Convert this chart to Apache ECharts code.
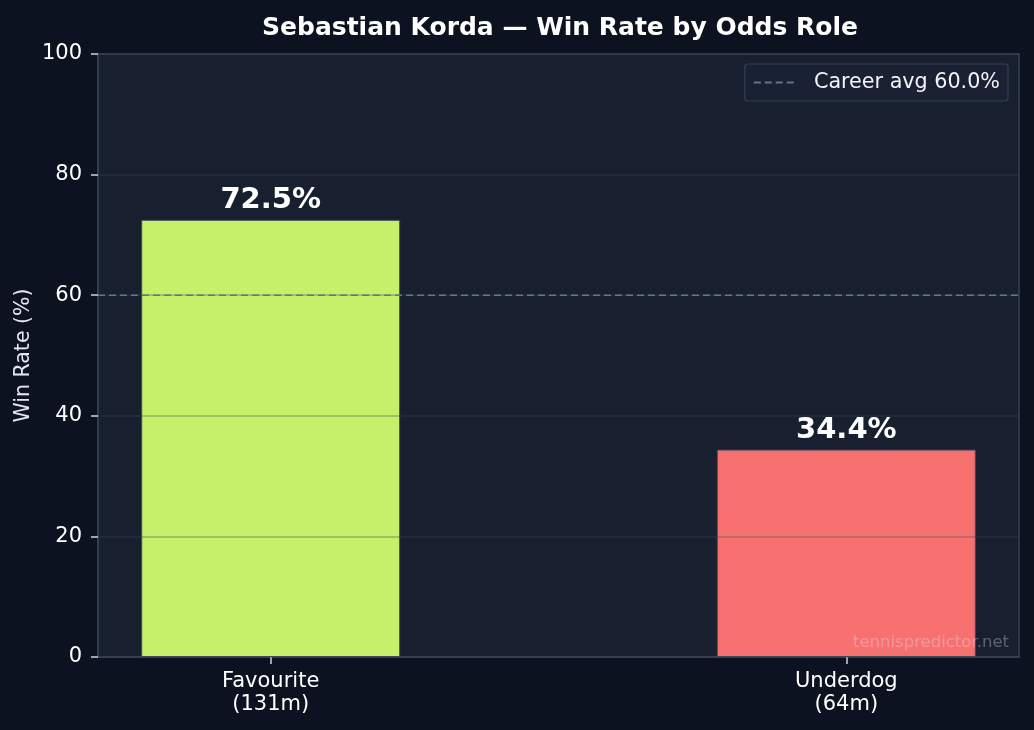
<!DOCTYPE html>
<html>
<head>
<meta charset="utf-8">
<script src="https://cdn.jsdelivr.net/npm/echarts@6/dist/echarts.min.js"></script>
<style>
  html, body { margin: 0; padding: 0; background: #0d1220; }
  #chart { width: 1034px; height: 730px; }
</style>
</head>
<body>
<div id="chart"></div>
<script>
// data
let categories = ['Favourite\n(131m)', 'Underdog\n(64m)'];
let winRates = [72.5, 34.4];
let barColors = ['#c4f06a', '#f87171'];
let careerAvg = 60.0;
let yTicks = [0, 20, 40, 60, 80, 100];
let xMin = -0.3, xMax = 1.3;

let font = 'DejaVu Sans';
let avgName = 'Career avg ' + careerAvg.toFixed(1) + '%';

let myChart = echarts.init(document.getElementById('chart'), null, { renderer: 'canvas' });

let option = {
    backgroundColor: '#0d1220',
    animation: false,
    textStyle: { fontFamily: font },
    title: {
        text: 'Sebastian Korda \u2014 Win Rate by Odds Role',
        left: 555,
        textAlign: 'center',
        top: 11,
        textStyle: { color: '#ffffff', fontSize: 25, fontWeight: 'bold', fontFamily: font }
    },
    legend: {
        right: 26,
        top: 64,
        padding: [8, 8, 8, 8],
        backgroundColor: '#1a2132',
        borderColor: '#334155',
        borderWidth: 1.2,
        borderRadius: 3,
        itemWidth: 42,
        itemHeight: 14,
        itemStyle: { opacity: 0 },
        textStyle: { color: '#f1f5f9', fontSize: 20.7, fontFamily: font },
        formatter: name => '  ' + name,
        data: [avgName]
    },
    grid: {
        left: 98,
        right: 15,
        top: 54,
        bottom: 73,
        show: true,
        backgroundColor: '#181f2f',
        borderColor: '#334155',
        borderWidth: 1.5
    },
    xAxis: {
        type: 'value',
        min: xMin,
        max: xMax,
        axisLine: { show: true, onZero: false, lineStyle: { color: '#334155', width: 1.5 } },
        axisTick: { show: true, customValues: [0, 1], length: 7, lineStyle: { color: '#cbd5e1', width: 1.5 } },
        axisLabel: {
            customValues: [0, 1],
            color: '#ffffff',
            fontSize: 21,
            lineHeight: 23,
            margin: 13,
            formatter: v => categories[Math.round(v)]
        },
        splitLine: { show: false }
    },
    yAxis: {
        type: 'value',
        min: 0,
        max: 100,
        interval: 20,
        z: 3,
        name: 'Win Rate (%)',
        nameLocation: 'middle',
        nameGap: 64,
        nameMoveOverlap: false,
        nameTextStyle: { color: '#e2e8f0', fontSize: 20.5, fontFamily: font },
        axisLine: { show: true, onZero: false, lineStyle: { color: '#334155', width: 1.5 } },
        axisTick: { show: true, length: 7, lineStyle: { color: '#cbd5e1', width: 1.5 } },
        axisLabel: {
            color: '#ffffff',
            fontSize: 21,
            margin: 16,
            customValues: yTicks
        },
        splitLine: { show: true, lineStyle: { color: 'rgba(60,72,85,0.38)', width: 1.6 } }
    },
    graphic: [{
        type: 'text',
        right: 25,
        bottom: 79,
        z: 10,
        style: {
            text: 'tennispredictor.net',
            fill: 'rgba(226,232,240,0.33)',
            fontSize: 16.5,
            fontFamily: font
        }
    }],
    series: [
        {
            type: 'bar',
            barWidth: 259,
            z: 2,
            data: winRates.map((v, i) => ({
                value: [i, v],
                itemStyle: { color: barColors[i], borderColor: '#3b4a5e', borderWidth: 1 }
            })),
            label: {
                show: true,
                position: 'top',
                distance: 5,
                color: '#ffffff',
                fontSize: 29,
                fontWeight: 'bold',
                fontFamily: font,
                formatter: p => p.value[1].toFixed(1) + '%'
            }
        },
        {
            name: avgName,
            type: 'line',
            z: 5,
            symbol: 'none',
            silent: true,
            lineStyle: { color: '#64748b', width: 1.6, type: [7, 4] },
            itemStyle: { color: '#64748b' },
            data: [[xMin, careerAvg], [xMax, careerAvg]]
        }
    ]
};

myChart.setOption(option);
</script>
</body>
</html>
